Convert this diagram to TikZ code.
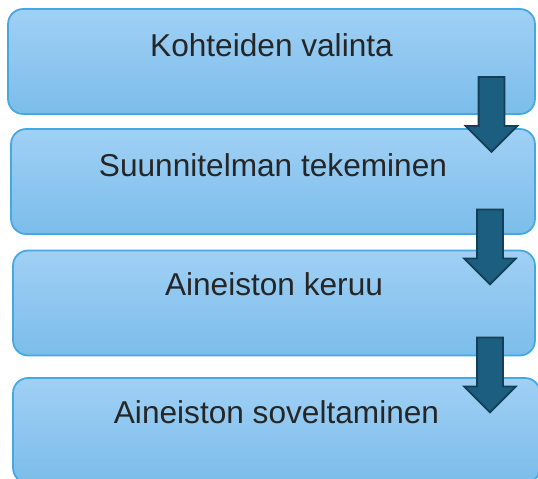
\documentclass[tikz,border=0pt]{standalone}
\usepackage{fontspec}
\setmainfont{Liberation Sans}
\usetikzlibrary{shapes.arrows}

\definecolor{ylavari}{HTML}{A0D0F5}
\definecolor{alavari}{HTML}{7BBDEA}
\definecolor{reuna}{HTML}{45A8E0}
\definecolor{nuolivari}{HTML}{1C5E80}
\definecolor{nuolireuna}{HTML}{123F55}

\tikzset{
  vaihe/.style={draw=reuna, line width=1pt, rounded corners=0.3cm,
    top color=ylavari, bottom color=alavari, minimum height=2.1cm, inner sep=0pt},
  teksti/.style={anchor=base, font=\fontsize{18}{21}\selectfont, text=black!85},
  nuoli/.style={single arrow, draw=nuolireuna, fill=nuolivari, line width=1pt,
    rotate=-90, inner sep=0.24cm, single arrow head extend=0.26cm,
    single arrow tip angle=90, minimum height=1.5cm}
}

\begin{document}
\begin{tikzpicture}[x=0.02cm, y=-0.02cm]
  \useasboundingbox (0,0) rectangle (538,479);
  % vaiheet
  \node[vaihe, minimum width=10.54cm] (v1) at (271.5,61.5) {};
  \node[vaihe, minimum width=10.48cm] (v2) at (273,181.5) {};
  \node[vaihe, minimum width=10.44cm] (v3) at (274,303) {};
  \node[vaihe, minimum width=10.54cm] (v4) at (276.5,430.5) {};
  % tekstit
  \node[teksti] (t1) at ([yshift=-0.96cm]v1.north) {Kohteiden valinta};
  \node[teksti] (t2) at ([yshift=-0.96cm]v2.north) {Suunnitelman tekeminen};
  \node[teksti] (t3) at ([yshift=-0.92cm]v3.north) {Aineiston keruu};
  \node[teksti] (t4) at ([yshift=-0.92cm]v4.north) {Aineiston soveltaminen};
  % nuolet
  \node[nuoli] (n1) at (491.5,108) {};
  \node[nuoli] (n2) at (490,240.5) {};
  \node[nuoli] (n3) at (490,368.5) {};
\end{tikzpicture}
\end{document}
